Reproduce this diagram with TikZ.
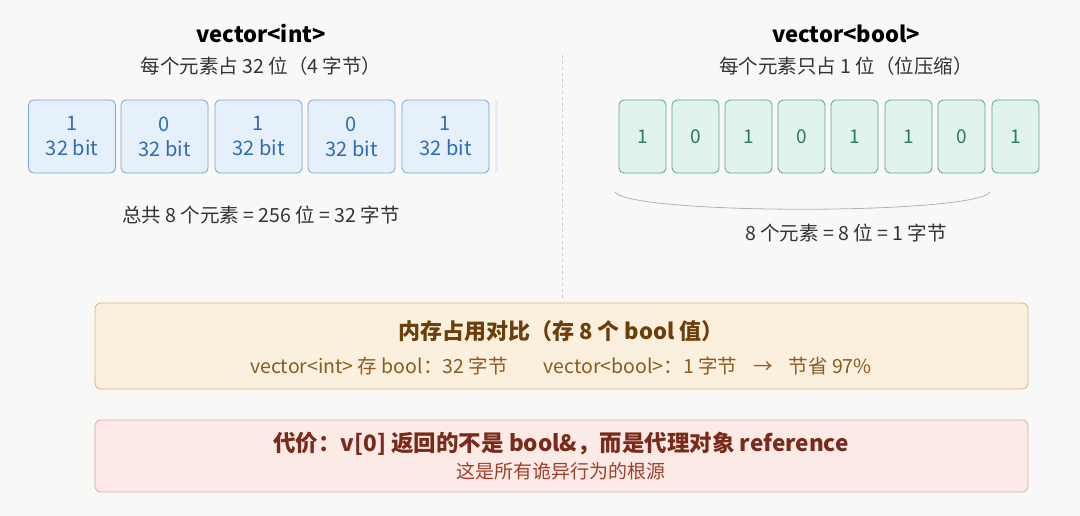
\documentclass[tikz,border=0pt]{standalone}
\usepackage{fontspec}
\setmainfont{Noto Sans CJK SC}
\definecolor{bg}{HTML}{F8F8F6}
\definecolor{bfill}{HTML}{E6F0FB}\definecolor{bdraw}{HTML}{7BA4D0}\definecolor{btext}{HTML}{2E6DB4}
\definecolor{gfill}{HTML}{E0F3EC}\definecolor{gdraw}{HTML}{5FA68A}\definecolor{gtext}{HTML}{2A7A5E}
\definecolor{ofill}{HTML}{FBF0DE}\definecolor{odraw}{HTML}{D9B27A}\definecolor{otitle}{HTML}{6B3E0A}\definecolor{otext}{HTML}{8A5A1E}
\definecolor{rfill}{HTML}{FBEAE6}\definecolor{rdraw}{HTML}{E0A89C}\definecolor{rtitle}{HTML}{7A2A1A}\definecolor{rtext}{HTML}{A0402A}
\definecolor{txt}{HTML}{333333}
\begin{document}
\begin{tikzpicture}[x=1pt,y=-1pt,
 intbox/.style={draw=bdraw,fill=bfill,rounded corners=5pt,line width=0.8pt,text=btext,align=center,font=\fontsize{20}{25}\selectfont,minimum width=87pt,minimum height=73pt,inner sep=0pt},
 boolbox/.style={draw=gdraw,fill=gfill,rounded corners=5pt,line width=0.8pt,text=gtext,font=\fontsize{19}{22}\selectfont,minimum width=47pt,minimum height=73pt,inner sep=0pt},
 ttl/.style={font=\bfseries\fontsize{22}{26}\selectfont,text=black},
 sub/.style={font=\fontsize{19.5}{22}\selectfont,text=txt},
 panel/.style={rounded corners=6pt,line width=0.8pt}]
\fill[bg] (0,0) rectangle (1080,516);
\draw[gray!40,dashed,line width=0.8pt] (562,55) -- (562,300);
\node[ttl] (t1) at (261,34) {vector<int>};
\node[sub] (s1) at (261,66) {每个元素占 32 位（4 字节）};
\node[ttl] (t2) at (846,34) {vector<bool>};
\node[sub] (s2) at (846,66) {每个元素只占 1 位（位压缩）};
\foreach \x/\v [count=\i] in {72/1,164.5/0,258.5/1,351.5/0,445.5/1}
  \node[intbox] (i\i) at (\x,136.5) {\v\\32 bit};
\fill[bfill] (495,100) rectangle (498,173);
\foreach \x/\v [count=\i] in {642.5/1,695.5/0,748.5/1,801.5/0,854.5/1,908.5/1,961.5/0,1015.5/1}
  \node[boolbox] (b\i) at (\x,136.5) {\v};
\node[sub] (c1) at (261,215) {总共 8 个元素 = 256 位 = 32 字节};
\coordinate (bl) at (615,192);\coordinate (br) at (990,192);
\draw[gray!60,line width=0.8pt] (bl) .. controls (630,215) and (975,215) .. (br);
\node[sub] (c2) at (846,233) {8 个元素 = 8 位 = 1 字节};
\draw[panel,draw=odraw,fill=ofill] (95,303) rectangle (1028,389);
\node[font=\bfseries\fontsize{22}{26}\selectfont,text=otitle] (o1) at (561,331) {内存占用对比（存 8 个 bool 值）};
\node[font=\fontsize{19.5}{22}\selectfont,text=otext] (o2) at (561,366) {vector<int> 存 bool：32 字节\hspace{36pt}vector<bool>：1 字节\hspace{16pt}→\hspace{16pt}节省 97\%};
\draw[panel,draw=rdraw,fill=rfill] (95,420) rectangle (1028,492);
\node[font=\bfseries\fontsize{22.5}{26}\selectfont,text=rtitle] (r1) at (561,444) {代价：v[0] 返回的不是 bool\&，而是代理对象 reference};
\node[font=\fontsize{19}{22}\selectfont,text=rtext] (r2) at (561,471) {这是所有诡异行为的根源};
\end{tikzpicture}
\end{document}
